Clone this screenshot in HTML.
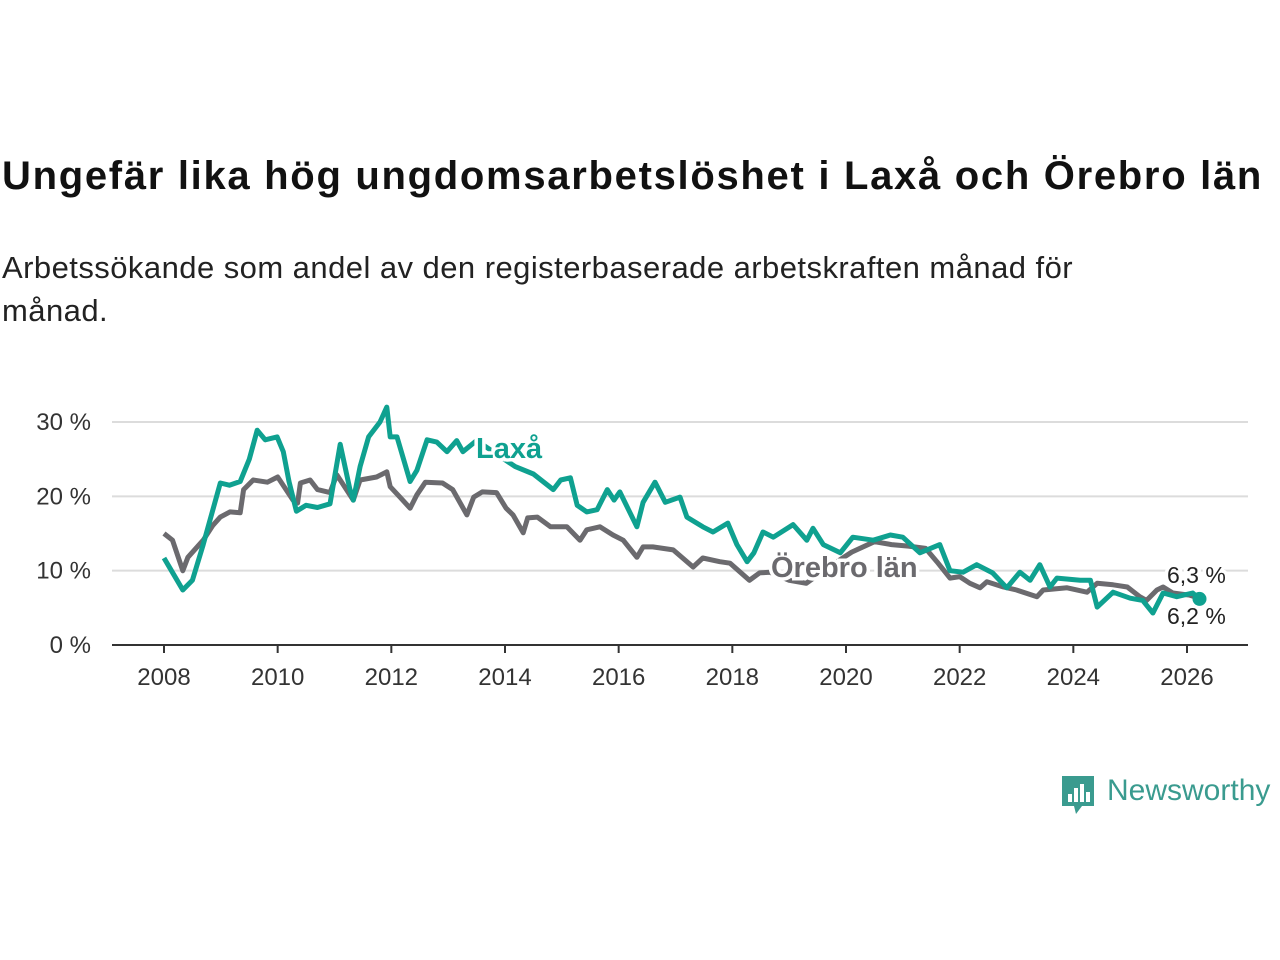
<!DOCTYPE html>
<html><head><meta charset="utf-8"><style>
body{margin:0;width:1280px;height:960px;background:#fff;font-family:"Liberation Sans",sans-serif;overflow:hidden;position:relative}
h1{position:absolute;left:2px;top:154px;margin:0;font-size:40px;font-weight:bold;color:#111;letter-spacing:1.7px;white-space:nowrap}
.sub{position:absolute;left:2px;top:246px;margin:0;font-size:31px;color:#222;line-height:43px;width:1170px;letter-spacing:0.45px}
svg{position:absolute;left:0;top:0}
</style></head><body>
<h1>Ungefär lika hög ungdomsarbetslöshet i Laxå och Örebro län</h1>
<p class="sub">Arbetssökande som andel av den registerbaserade arbetskraften månad för månad.</p>
<svg id="chart" width="1280" height="960"></svg>
<div style="position:absolute;left:1060px;top:774px;width:220px;height:44px">
<svg width="36" height="44" style="left:0;top:0"><path d="M2 2h32v30H22l-6 8-2-8H2z" fill="#3a9b8f"/><rect x="8" y="20" width="4" height="8" fill="#fff"/><rect x="14" y="14" width="4" height="14" fill="#fff"/><rect x="20" y="10" width="4" height="18" fill="#fff"/><rect x="26" y="18" width="4" height="10" fill="#fff"/></svg>
<span style="position:absolute;left:47px;top:0;font-size:30px;color:#3a9b8f;font-weight:500">Newsworthy</span></div>
<script>
const tickYears=[2008,2010,2012,2014,2016,2018,2020,2022,2024,2026];
const tickVals=[0,10,20,30];
const laxaT=[2008,2008.1,2008.33,2008.5,2008.69,2008.99,2009.15,2009.34,2009.5,2009.64,2009.78,2009.99,2010.1,2010.2,2010.33,2010.5,2010.7,2010.92,2011.1,2011.27,2011.33,2011.45,2011.6,2011.8,2011.92,2011.98,2012.1,2012.33,2012.45,2012.63,2012.8,2012.98,2013.15,2013.26,2013.5,2014.18,2014.5,2014.85,2014.98,2015.15,2015.27,2015.44,2015.62,2015.8,2015.92,2016.02,2016.32,2016.43,2016.64,2016.82,2017.08,2017.2,2017.48,2017.66,2017.92,2018.08,2018.26,2018.38,2018.54,2018.72,2019.07,2019.31,2019.42,2019.6,2019.9,2020.12,2020.48,2020.78,2021.0,2021.3,2021.65,2021.83,2022.06,2022.3,2022.58,2022.83,2023.06,2023.24,2023.41,2023.59,2023.71,2024.12,2024.3,2024.42,2024.7,2025.0,2025.22,2025.4,2025.58,2025.82,2026.1,2026.22];
const laxaV=[11.7,10.4,7.4,8.7,13.5,21.8,21.5,22,25,28.9,27.6,28,26,22,18,18.8,18.5,19,27,21,19.5,24,28,30,32,28,28,22,23.5,27.6,27.3,26,27.5,26,27.5,24,23,20.9,22.2,22.5,18.8,17.9,18.2,20.9,19.5,20.6,15.9,19.2,21.9,19.2,19.9,17.2,15.9,15.2,16.4,13.5,11.2,12.4,15.2,14.5,16.2,14.1,15.7,13.5,12.4,14.5,14.1,14.8,14.5,12.4,13.5,10,9.8,10.8,9.7,7.7,9.8,8.7,10.8,7.8,9,8.7,8.7,5.1,7.1,6.3,6,4.3,7,6.5,7,6.2];
const orebT=[2008,2008.15,2008.33,2008.42,2008.69,2008.86,2008.99,2009.16,2009.34,2009.4,2009.57,2009.82,2010.0,2010.27,2010.35,2010.4,2010.57,2010.7,2010.92,2011.04,2011.33,2011.45,2011.74,2011.92,2011.98,2012.15,2012.33,2012.45,2012.6,2012.9,2013.08,2013.33,2013.45,2013.6,2013.85,2014.02,2014.14,2014.32,2014.4,2014.57,2014.8,2015.09,2015.32,2015.44,2015.67,2015.9,2016.08,2016.32,2016.43,2016.6,2016.96,2017.31,2017.48,2017.78,2017.96,2018.3,2018.48,2018.66,2019.0,2019.3,2019.7,2020.1,2020.5,2020.8,2021.1,2021.4,2021.6,2021.83,2022.0,2022.18,2022.36,2022.48,2022.77,2023.0,2023.36,2023.47,2023.89,2024.24,2024.42,2024.7,2024.95,2025.17,2025.29,2025.47,2025.58,2025.75,2026.05,2026.22];
const orebV=[15,14.1,10,11.8,14.1,16.1,17.2,17.9,17.8,20.9,22.2,21.9,22.6,19.5,19.1,21.8,22.2,20.9,20.5,22.9,19.5,22.2,22.6,23.3,21.3,19.9,18.4,20.2,21.9,21.8,20.9,17.5,19.9,20.6,20.5,18.4,17.5,15.1,17.1,17.2,15.9,15.9,14.1,15.5,15.9,14.8,14.1,11.8,13.2,13.2,12.8,10.5,11.7,11.2,11,8.7,9.7,9.8,8.7,8.3,10.5,12.5,13.9,13.5,13.3,13,11.2,9,9.2,8.3,7.7,8.5,7.8,7.4,6.5,7.4,7.7,7.1,8.3,8.1,7.8,6.5,6,7.4,7.8,7,6.7,6.3];
const NS='http://www.w3.org/2000/svg';
const svg=document.getElementById('chart');
const X=y=>164+(y-2008)*(1187-164)/18;
const Y=v=>645-v*(645-422)/30;
function mk(t,a,parent){const e=document.createElementNS(NS,t);for(const k in a)e.setAttribute(k,a[k]);(parent||svg).appendChild(e);return e;}
tickVals.forEach(v=>{
 if(v>0){const g=mk('line',{x1:112,x2:1248,y1:Y(v),y2:Y(v),stroke:'#dcdcdc','stroke-width':2});
 
 }
 const t=mk('text',{x:91,y:Y(v)+8,'text-anchor':'end','font-size':24,fill:'#333','font-family':'Liberation Sans, sans-serif'});
 t.textContent=v+' %';
 
 
});
const ax=mk('line',{x1:112,x2:1248,y1:645,y2:645,stroke:'#333','stroke-width':2});


tickYears.forEach(yr=>{
 const tk=mk('line',{x1:X(yr),x2:X(yr),y1:645,y2:653,stroke:'#333','stroke-width':2});
 
 
 const t=mk('text',{x:X(yr),y:685,'text-anchor':'middle','font-size':24,fill:'#333','font-family':'Liberation Sans, sans-serif'});
 t.textContent=yr;
 
 
});
function line(T,V,col,name){
 const d=T.map((t,i)=>(i?'L':'M')+X(t).toFixed(1)+' '+Y(V[i]).toFixed(1)).join(' ');
 const p=mk('path',{d:d,fill:'none',stroke:col,'stroke-width':5,'stroke-linejoin':'round'});
 
 
}
line(orebT,orebV,'#6b6a6e','orebro-line');
line(laxaT,laxaV,'#0fa190','laxa-line');
function lbl(x,y,txt,col,name,size,bold,anchor){
 const t=mk('text',{x:x,y:y,'font-size':size,'font-weight':bold?'bold':'normal',fill:col,stroke:'#fff','stroke-width':7,'paint-order':'stroke','text-anchor':anchor||'start','font-family':'Liberation Sans, sans-serif'});
 t.textContent=txt;
 
 
}
lbl(476,458,'Laxå','#0fa190','laxa-label',29,true);
lbl(771,577,'Örebro län','#6b6a6e','orebro-label',29,true);
const dot=mk('circle',{cx:X(laxaT[laxaT.length-1]),cy:Y(laxaV[laxaV.length-1]),r:7,fill:'#0fa190'});


lbl(1167,583,'6,3 %','#222','orebro-end-value',23,false);
lbl(1167,624,'6,2 %','#222','laxa-end-value',23,false);
</script>
</body></html>
